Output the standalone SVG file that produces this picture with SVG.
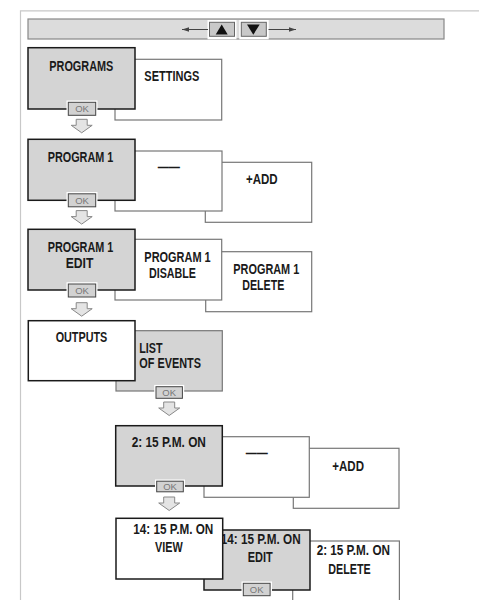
<svg xmlns="http://www.w3.org/2000/svg" width="479" height="600" viewBox="0 0 479 600">
<style>
.t{font-family:"Liberation Sans",Arial,sans-serif;font-weight:bold;font-size:14px;fill:#1a1a1a}
.m{text-anchor:middle}
.main{fill:#d4d4d4;stroke:#1a1a1a;stroke-width:1.5}
.mainw{fill:#fff;stroke:#1a1a1a;stroke-width:1.5}
.sec{fill:#fff;stroke:#777;stroke-width:1.2}
.secg{fill:#d4d4d4;stroke:#777;stroke-width:1.2}
.okb{fill:#fff}
.okr{fill:#d2d2d2;stroke:#444;stroke-width:1}
.okt{font-family:"Liberation Sans",Arial,sans-serif;font-size:9.5px;fill:#777;text-anchor:middle}
.blk{fill:#e4e4e4;stroke:#888;stroke-width:1}
.frame{stroke:#c8c8c8;stroke-width:1.2;fill:none}
</style>
<defs>
<marker id="ah" markerWidth="8" markerHeight="6" refX="7" refY="3" orient="auto" markerUnits="userSpaceOnUse">
<path d="M0,0.8 L7,3 L0,5.2 z" fill="#444"/>
</marker>
</defs>
<rect width="479" height="600" fill="#fff"/>
<path class="frame" d="M20.5,600 V10.8 H479"/>
<g id="navbar">
<rect x="28" y="19" width="416" height="20" fill="#dcdcdc" stroke="#888" stroke-width="1.2"/>
<rect x="207.5" y="20" width="29" height="19.3" fill="#fff"/>
<rect x="209.5" y="22.3" width="25" height="14" fill="#c8c8c8" stroke="#666" stroke-width="1"/>
<polygon points="221.7,24.5 215.7,34.5 227.7,34.5" fill="#111"/>
<rect x="239.3" y="20" width="29.4" height="19.3" fill="#fff"/>
<rect x="241.3" y="22.3" width="25" height="14" fill="#c8c8c8" stroke="#666" stroke-width="1"/>
<polygon points="247,24.5 259.7,24.5 253.3,34.7" fill="#111"/>
</g>
<g id="connectors">
<line x1="208" y1="29.5" x2="182" y2="29.5" stroke="#444" stroke-width="1" marker-end="url(#ah)"/>
<line x1="268.5" y1="29.5" x2="296" y2="29.5" stroke="#444" stroke-width="1" marker-end="url(#ah)"/>
<path class="blk" d="M76.2,119.3 h11 v6 h5 l-10.5,7.5 l-10.5,-7.5 h5 z"/>
<path class="blk" d="M76.2,210.6 h11 v6 h5 l-10.5,7.5 l-10.5,-7.5 h5 z"/>
<path class="blk" d="M76.2,302.7 h11 v6 h5 l-10.5,7.5 l-10.5,-7.5 h5 z"/>
<path class="blk" d="M163.7,402 h11 v6 h5 l-10.5,7.5 l-10.5,-7.5 h5 z"/>
<path class="blk" d="M163.7,497 h11 v6 h5 l-10.5,7.5 l-10.5,-7.5 h5 z"/>
</g>
<g id="settings">
<rect class="sec" x="115" y="59.3" width="106.7" height="60.7"/>
<text class="t" x="144.3" y="80.7" textLength="55" lengthAdjust="spacingAndGlyphs">SETTINGS</text>
</g>
<g id="programs">
<rect class="main" x="28" y="47.7" width="107" height="61.3"/>
<text class="t m" x="81.3" y="70.7" textLength="64" lengthAdjust="spacingAndGlyphs">PROGRAMS</text>
<rect class="okb" x="66.5" y="100.5" width="31" height="16.5"/>
<rect class="okr" x="68.3" y="102.3" width="27.4" height="13"/>
<text class="okt" x="82" y="112.3">OK</text>
</g>
<g id="add1">
<rect class="sec" x="205.3" y="162.3" width="106.4" height="60"/>
<text class="t" x="246" y="184.3" textLength="31.7" lengthAdjust="spacingAndGlyphs">+ADD</text>
</g>
<g id="empty1">
<rect class="sec" x="115" y="151" width="107" height="60"/>
<text class="t" x="157.7" y="172.2" textLength="22.3" lengthAdjust="spacingAndGlyphs">——</text>
</g>
<g id="program1">
<rect class="main" x="28" y="139.3" width="107" height="61"/>
<text class="t m" x="80.5" y="161.7" textLength="65.7" lengthAdjust="spacingAndGlyphs">PROGRAM 1</text>
<rect class="okb" x="66.5" y="192" width="31" height="16.5"/>
<rect class="okr" x="68.3" y="193.8" width="27.4" height="13"/>
<text class="okt" x="82" y="203.8">OK</text>
</g>
<g id="delete1">
<rect class="sec" x="205.7" y="251.7" width="106" height="60"/>
<text class="t m" x="266.3" y="274.3" textLength="66" lengthAdjust="spacingAndGlyphs">PROGRAM 1</text>
<text class="t m" x="263.3" y="290" textLength="42" lengthAdjust="spacingAndGlyphs">DELETE</text>
</g>
<g id="disable1">
<rect class="sec" x="115" y="239.3" width="106.7" height="60.7"/>
<text class="t m" x="177.5" y="261.7" textLength="66.3" lengthAdjust="spacingAndGlyphs">PROGRAM 1</text>
<text class="t m" x="172.5" y="278.3" textLength="47" lengthAdjust="spacingAndGlyphs">DISABLE</text>
</g>
<g id="edit1">
<rect class="main" x="28" y="229.3" width="107" height="60.7"/>
<text class="t m" x="80.5" y="251.7" textLength="65.7" lengthAdjust="spacingAndGlyphs">PROGRAM 1</text>
<text class="t m" x="79.5" y="267.7" textLength="27.7" lengthAdjust="spacingAndGlyphs">EDIT</text>
<rect class="okb" x="66.5" y="282.2" width="31" height="16.5"/>
<rect class="okr" x="68.3" y="284" width="27.4" height="13"/>
<text class="okt" x="82" y="294">OK</text>
</g>
<g id="events">
<rect class="secg" x="116" y="330.7" width="106.3" height="60.3"/>
<text class="t" x="139.3" y="352.7" textLength="23.3" lengthAdjust="spacingAndGlyphs">LIST</text>
<text class="t" x="139.3" y="368.3" textLength="61.7" lengthAdjust="spacingAndGlyphs">OF EVENTS</text>
</g>
<g id="outputs">
<rect class="mainw" x="28.3" y="320.7" width="106.7" height="60"/>
<text class="t m" x="81.5" y="342.3" textLength="51.7" lengthAdjust="spacingAndGlyphs">OUTPUTS</text>
</g>
<g id="events-ok">
<rect class="okb" x="154.2" y="384.9" width="30" height="15.2"/>
<rect class="okr" x="156" y="386.7" width="26.4" height="11.6"/>
<text class="okt" x="169.2" y="396">OK</text>
</g>
<g id="add2">
<rect class="sec" x="293.3" y="448.3" width="105.7" height="60"/>
<text class="t" x="332.3" y="471" textLength="31.7" lengthAdjust="spacingAndGlyphs">+ADD</text>
</g>
<g id="empty2">
<rect class="sec" x="204" y="436.7" width="105.3" height="60.6"/>
<text class="t" x="245.7" y="457.9" textLength="22" lengthAdjust="spacingAndGlyphs">——</text>
</g>
<g id="event1">
<rect class="main" x="115.7" y="425.7" width="106.6" height="60.3"/>
<text class="t m" x="168.8" y="447.3" textLength="74.3" lengthAdjust="spacingAndGlyphs">2: 15 P.M. ON</text>
<rect class="okb" x="155" y="479.5" width="30" height="14"/>
<rect class="okr" x="156.7" y="481.2" width="26.6" height="10.6"/>
<text class="okt" x="170" y="489.8">OK</text>
</g>
<g id="delete2">
<rect class="sec" x="292.7" y="541" width="106.7" height="70"/>
<text class="t m" x="353.3" y="555" textLength="73.3" lengthAdjust="spacingAndGlyphs">2: 15 P.M. ON</text>
<text class="t m" x="349.5" y="574" textLength="42.3" lengthAdjust="spacingAndGlyphs">DELETE</text>
</g>
<g id="edit2">
<rect class="main" x="204" y="530" width="106" height="60"/>
<text class="t m" x="260.7" y="544" textLength="80" lengthAdjust="spacingAndGlyphs">14: 15 P.M. ON</text>
<text class="t m" x="260.2" y="562.3" textLength="25" lengthAdjust="spacingAndGlyphs">EDIT</text>
</g>
<g id="view">
<rect class="mainw" x="116" y="518.3" width="106.7" height="60.7"/>
<text class="t m" x="173.3" y="534" textLength="80" lengthAdjust="spacingAndGlyphs">14: 15 P.M. ON</text>
<text class="t m" x="168.8" y="551.7" textLength="27.7" lengthAdjust="spacingAndGlyphs">VIEW</text>
</g>
<g id="edit2-ok">
<rect class="okb" x="241.5" y="581.5" width="30.5" height="16"/>
<rect class="okr" x="243.3" y="583.3" width="26.8" height="12.4"/>
<text class="okt" x="256.7" y="593">OK</text>
</g>
</svg>
